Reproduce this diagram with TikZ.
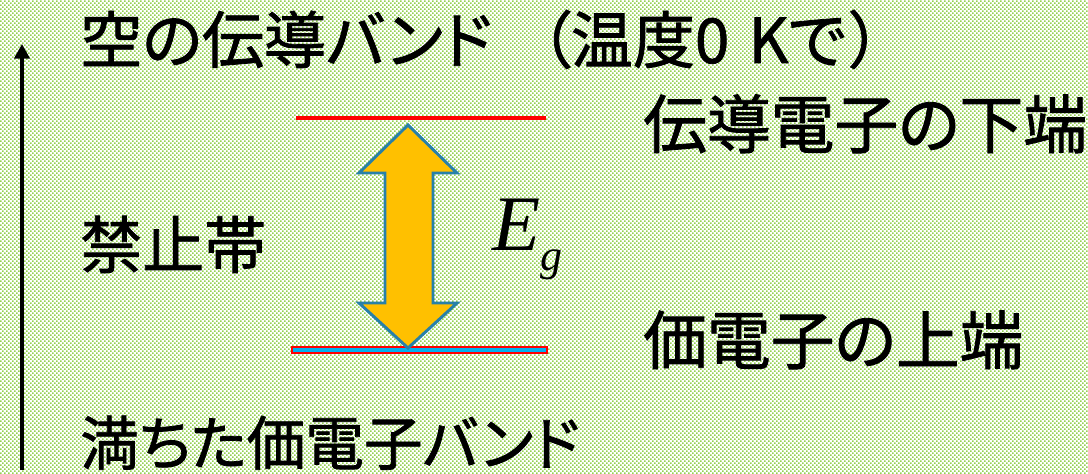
\documentclass[tikz,border=0pt]{standalone}
\usepackage{fontspec}
\usetikzlibrary{arrows.meta,patterns}
\newfontfamily\jp[RawFeature={+palt;embolden=1.3}]{Noto Sans CJK JP}
\newfontfamily\tnr{Liberation Serif}
\definecolor{bggreen}{RGB}{146,208,80}
\definecolor{arrfill}{RGB}{255,192,0}
\definecolor{arredge}{RGB}{40,128,168}
\definecolor{lvlcyan}{RGB}{0,176,240}
\pgfdeclarepatternformonly{gdots}{\pgfqpoint{-0.1pt}{-0.1pt}}{\pgfqpoint{3.1pt}{3.1pt}}{\pgfqpoint{3pt}{3pt}}{%
  \pgfpathrectangle{\pgfqpoint{0pt}{0pt}}{\pgfqpoint{1.25pt}{1.25pt}}%
  \pgfpathrectangle{\pgfqpoint{1.5pt}{1.5pt}}{\pgfqpoint{1.25pt}{1.25pt}}%
  \pgfusepath{fill}}
\tikzset{
  lbl/.style={anchor=base west, inner sep=0pt, font=\jp\fontsize{46.5}{46.5}\selectfont},
  rlbl/.style={lbl, font=\jp\fontsize{47.8}{47.8}\selectfont},
  axis/.style={line width=2.4pt, -{Triangle[width=11.5pt,length=11pt]}},
  toplevel/.style={draw=red, line width=3pt},
  botlevel/.style={draw=red, fill=lvlcyan, line width=1.1pt},
  gaparrow/.style={fill=arrfill, draw=arredge, line width=2.2pt, line join=miter}
}
\begin{document}
\begin{tikzpicture}[x=0.75pt,y=-0.75pt]
\useasboundingbox (0,0) rectangle (1088,474);
\fill[white] (0,0) rectangle (1088,474);
\fill[pattern=gdots, pattern color=bggreen] (0,0) rectangle (1088,474);
% energy axis
\coordinate (axb) at (22,470);
\coordinate (axt) at (22,44);
\draw[axis] (axb) -- (axt);
% band edges
\coordinate (cl) at (296,118);
\coordinate (cr) at (546,118);
\draw[toplevel] (cl) -- (cr);
\coordinate (vl) at (292,347);
\coordinate (vr) at (547,353);
\draw[botlevel] (vl) rectangle (vr);
% gap arrow
\draw[gaparrow] (408,125) -- (457,173) -- (433,173) -- (433,303) -- (457,303) -- (408,348)
  -- (359,303) -- (385,303) -- (385,173) -- (359,173) -- cycle;
% labels
\node[lbl] (cb) at (80,63) {空の伝導バンド\hspace{36pt}（温度0\hspace{4pt} Kで\hspace{3pt}）};
\node[rlbl] (ce) at (643,148) {伝導電子の下端};
\node[lbl] (gap) at (80,268) {禁止帯};
\node[rlbl] (ve) at (643,364) {価電子の上端};
\node[lbl, font=\jp\fontsize{44}{44}\selectfont] (vb) at (80,465) {満ちた価電子バンド};
\node[anchor=base west, inner sep=0pt] (eg) at (492,250)
  {\tnr\itshape\fontsize{59}{59}\selectfont E\raisebox{-15pt}{\fontsize{33}{33}\selectfont g}};
\end{tikzpicture}
\end{document}
